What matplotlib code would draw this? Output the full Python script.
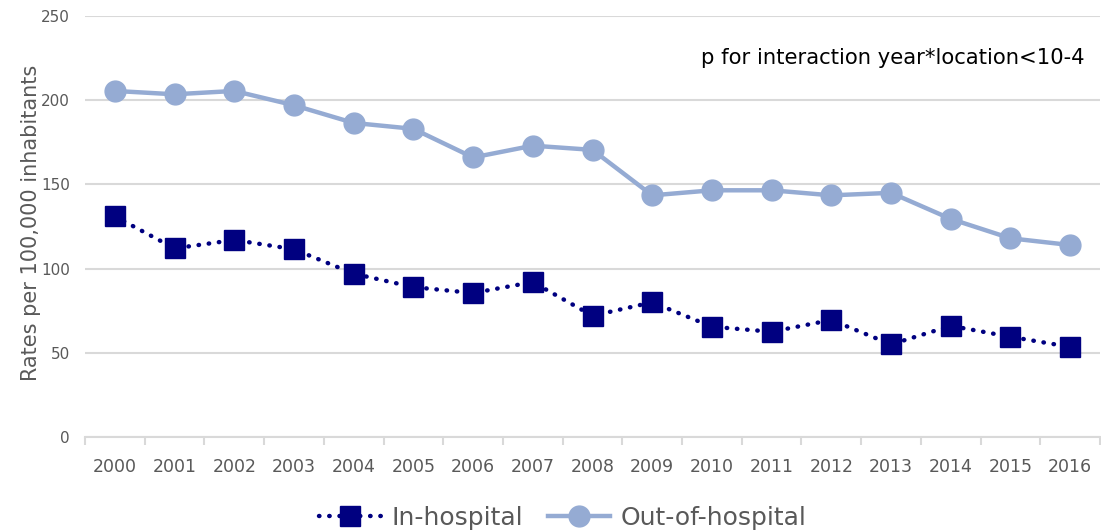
import matplotlib
matplotlib.use("Agg")
import matplotlib.pyplot as plt
import numpy as np

# Data
years = [str(y) for y in range(2000, 2017)]
in_hospital = [131, 112, 117, 111.5, 97, 89, 85.5, 92, 72, 80, 65.5, 62.5, 69.5, 55, 66, 59.5, 53.5]
out_hospital = [205.5, 203.5, 205.5, 197, 186.5, 183, 166, 173, 170.5, 143.5, 146.5, 146.5, 143.5, 145, 129.5, 118, 114]
y_ticks = [0, 50, 100, 150, 200, 250]

navy = "#000080"
light_blue = "#95abd3"
grey_text = "#595959"
grid_col = "#d9d9d9"

fig = plt.figure(figsize=(11.01, 5.32), dpi=100)
ax = fig.add_axes([85 / 1101, 95 / 532, 1015 / 1101, 421 / 532])

x = np.arange(len(years))
ax.plot(x, in_hospital, linestyle=(0, (0.1, 2.2)), dash_capstyle="round", linewidth=3.2,
        color=navy, marker="s", markersize=14, label="In-hospital", zorder=3)
ax.plot(x, out_hospital, linestyle="-", linewidth=3.2, color=light_blue,
        marker="o", markersize=15, label="Out-of-hospital", zorder=3)

ax.set_xlim(-0.5, len(years) - 0.5)
ax.set_ylim(0, 250)
ax.set_yticks(y_ticks)
ax.set_yticklabels([str(t) for t in y_ticks], fontsize=11, color=grey_text)
ax.set_xticks(x)
ax.set_xticklabels(years, fontsize=12.5, color=grey_text)
ax.tick_params(axis="y", length=0, pad=11)
ax.tick_params(axis="x", which="major", length=0, pad=15)
ax.set_xticks(np.arange(-0.5, len(years)), minor=True)
ax.tick_params(axis="x", which="minor", length=6, width=1.5, color=grid_col)

ax.grid(axis="y", color=grid_col, linewidth=1.5, zorder=0)
for side in ["top", "right", "left"]:
    ax.spines[side].set_visible(False)
ax.spines["bottom"].set_color(grid_col)
ax.spines["bottom"].set_linewidth(1.5)

ax.set_ylabel("Rates per 100,000 inhabitants", fontsize=15, color=grey_text)
ax.yaxis.set_label_coords(-0.043, 0.508)

ax.text(0.985, 0.9, "p for interaction year*location<10-4", transform=ax.transAxes,
        ha="right", va="center", fontsize=15.2, color="black")

fig.legend(loc="center", bbox_to_anchor=(0.511, 0.026), ncol=2, frameon=False,
           fontsize=18, handlelength=2.5, handletextpad=0.4, columnspacing=1.0,
           labelcolor=grey_text)

fig.savefig("out.png", dpi=100)
